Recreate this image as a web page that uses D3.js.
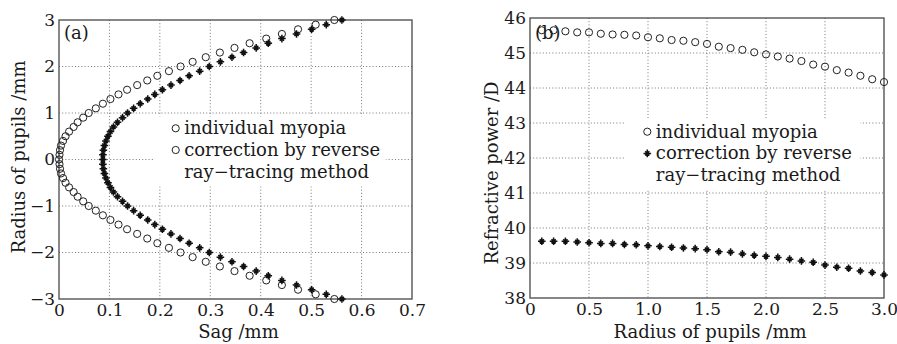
<!DOCTYPE html>
<html><head><meta charset="utf-8">
<script src="https://cdn.jsdelivr.net/npm/d3@7"></script>
<style>
body{margin:0;background:#fff;}
svg{display:block;font-family:"DejaVu Serif",serif;}
</style></head>
<body>
<svg id="chart" width="897" height="344"></svg>
<script>
// ---------- Panel (a) data ----------
const radiusA = [-3.0,-2.9,-2.8,-2.7,-2.6,-2.5,-2.4,-2.3,-2.2,-2.1,-2.0,-1.9,-1.8,-1.7,-1.6,-1.5,-1.4,-1.3,-1.2,-1.1,-1.0,-0.9,-0.8,-0.7,-0.6,-0.5,-0.4,-0.3,-0.2,-0.1,0.0,
  0.1,0.2,0.3,0.4,0.5,0.6,0.7,0.8,0.9,1.0,1.1,1.2,1.3,1.4,1.5,1.6,1.7,1.8,1.9,2.0,2.1,2.2,2.3,2.4,2.5,2.6,2.7,2.8,2.9,3.0];
const sagMyopia = [0.546,0.509,0.474,0.442,0.411,0.378,0.348,0.319,0.291,0.265,0.241,0.218,0.195,0.175,0.155,0.135,0.118,0.102,0.087,0.073,0.059,0.048,0.037,0.029,0.020,0.013,0.008,0.004,0.002,0.001,0.000,
  0.001,0.002,0.004,0.008,0.013,0.020,0.029,0.037,0.048,0.059,0.073,0.087,0.102,0.118,0.135,0.155,0.175,0.195,0.218,0.241,0.265,0.291,0.319,0.348,0.378,0.411,0.442,0.474,0.509,0.546];
const sagCorrection = [0.561,0.530,0.501,0.471,0.442,0.415,0.391,0.366,0.343,0.320,0.298,0.279,0.258,0.240,0.222,0.205,0.190,0.176,0.161,0.148,0.136,0.126,0.116,0.108,0.102,0.097,0.093,0.090,0.088,0.087,0.087,
  0.087,0.088,0.090,0.093,0.097,0.102,0.108,0.116,0.126,0.136,0.148,0.161,0.176,0.190,0.205,0.222,0.240,0.258,0.279,0.298,0.320,0.343,0.366,0.391,0.415,0.442,0.471,0.501,0.530,0.561];
const xTicksA = [0,0.1,0.2,0.3,0.4,0.5,0.6,0.7];
const yTicksA = [-3,-2,-1,0,1,2,3];

// ---------- Panel (b) data ----------
const radiusB = [0.1,0.2,0.3,0.4,0.5,0.6,0.7,0.8,0.9,1.0,1.1,1.2,1.3,1.4,1.5,1.6,1.7,1.8,1.9,2.0,2.1,2.2,2.3,2.4,2.5,2.6,2.7,2.8,2.9,3.0];
const powerMyopia = [45.65,45.65,45.62,45.59,45.59,45.55,45.53,45.52,45.50,45.45,45.42,45.37,45.35,45.31,45.26,45.18,45.14,45.09,45.02,44.96,44.90,44.84,44.77,44.67,44.61,44.51,44.44,44.35,44.25,44.17];
const powerCorrection = [39.62,39.62,39.62,39.60,39.58,39.56,39.56,39.53,39.52,39.49,39.47,39.45,39.43,39.41,39.38,39.32,39.31,39.26,39.22,39.19,39.16,39.11,39.06,39.02,38.94,38.88,38.85,38.77,38.73,38.66];
const xTicksB = [0,0.5,1.0,1.5,2.0,2.5,3.0];
const yTicksB = [38,39,40,41,42,43,44,45,46];

const legendLabels = ["individual myopia","correction by reverse","ray\u2212tracing method"];

const svg = d3.select("#chart");
const fmtX = d => d === 0 ? "0" : d3.format(".1f")(d);
const fmtY = d3.format("d");

function panel(cfg){
  const g = svg.append("g");
  const [x0,x1] = cfg.x.range(), [y0,y1] = cfg.y.range(); // y0 bottom, y1 top
  // grid
  const gg = g.append("g").attr("stroke","#777").attr("stroke-width",1).attr("stroke-dasharray","1,2.2");
  gg.selectAll("line.v").data(cfg.xTicks.slice(1,-1)).join("line")
    .attr("x1",d=>cfg.x(d)).attr("x2",d=>cfg.x(d)).attr("y1",y1).attr("y2",y0);
  gg.selectAll("line.h").data(cfg.yTicks.slice(1,-1)).join("line")
    .attr("y1",d=>cfg.y(d)).attr("y2",d=>cfg.y(d)).attr("x1",x0).attr("x2",x1);
  // legend background
  g.append("rect").attr("x",cfg.leg.x-22).attr("y",cfg.leg.y-12).attr("width",cfg.leg.w).attr("height",70).attr("fill","#fff");
  // frame
  g.append("rect").attr("x",x0).attr("y",y1).attr("width",x1-x0).attr("height",y0-y1)
    .attr("fill","none").attr("stroke","#555").attr("stroke-width",1.4);
  // axes (labels only)
  const ax = g.append("g").attr("transform",`translate(0,${y0})`)
    .call(d3.axisBottom(cfg.x).tickValues(cfg.xTicks).tickFormat(fmtX).tickSize(0));
  const ay = g.append("g").attr("transform",`translate(${x0},0)`)
    .call(d3.axisLeft(cfg.y).tickValues(cfg.yTicks).tickFormat(fmtY).tickSize(0).tickPadding(4));
  [ax,ay].forEach(a=>{a.select(".domain").remove(); a.selectAll("text").attr("font-family","DejaVu Serif").attr("font-size",17).attr("fill","#1a1a1a");});
  ax.selectAll("text").attr("y",17).attr("dy",0);
  // axis titles
  g.append("text").attr("x",(x0+x1)/2+3).attr("y",338).attr("text-anchor","middle")
    .attr("font-size",18).attr("fill","#1a1a1a").text(cfg.xLabel);
  g.append("text").attr("transform",`translate(${cfg.yLabX},${cfg.yLabY}) rotate(-90)`)
    .attr("text-anchor","middle").attr("dy","0.35em").attr("font-size",18).attr("fill","#1a1a1a").text(cfg.yLabel);
  // panel tag
  g.append("text").attr("x",x0+5).attr("y",39).attr("font-size",18).attr("fill","#1a1a1a").text(cfg.tag);
  return g;
}

function drawCircles(g, xs, ys, x, y){
  g.append("g").selectAll("circle").data(xs.map((v,i)=>[v,ys[i]])).join("circle")
    .attr("cx",d=>x(d[0])).attr("cy",d=>y(d[1])).attr("r",3.6)
    .attr("fill","none").attr("stroke","#222").attr("stroke-width",1);
}
// star marker: plus with a small cross (MATLAB-like '*')
const starPath = "M-3.8,0L3.8,0M0,-3.8L0,3.8M-2.1,-2.1L2.1,2.1M-2.1,2.1L2.1,-2.1";
function drawStars(g, xs, ys, x, y){
  g.append("g").selectAll("path").data(xs.map((v,i)=>[v,ys[i]])).join("path")
    .attr("transform",d=>`translate(${x(d[0])},${y(d[1])})`).attr("d",starPath)
    .attr("fill","none").attr("stroke","#111").attr("stroke-width",1.5);
}
function legend(g, lx, ly, secondMarker){
  const m = g.append("g");
  m.append("circle").attr("cx",lx).attr("cy",ly).attr("r",3.6).attr("fill","none").attr("stroke","#222");
  if(secondMarker==="circle"){
    m.append("circle").attr("cx",lx).attr("cy",ly+21.7).attr("r",3.6).attr("fill","none").attr("stroke","#222");
  } else {
    m.append("path").attr("transform",`translate(${lx},${ly+21.7})`).attr("d",starPath).attr("fill","none").attr("stroke","#111").attr("stroke-width",1.5);
  }
  m.selectAll("text").data(legendLabels).join("text")
    .attr("x",lx+8.5).attr("y",(d,i)=>ly+5.8+i*21.7).attr("font-size",18).attr("fill","#1a1a1a").text(d=>d);
}

// Panel (a)
const xA = d3.scaleLinear([0,0.7],[59,412]);
const yA = d3.scaleLinear([-3,3],[299,20]);
const gA = panel({x:xA,y:yA,xTicks:xTicksA,yTicks:yTicksA,xLabel:"Sag /mm",yLabel:"Radius of pupils /mm",
  yLabX:19,yLabY:157,tag:"(a)",leg:{x:175.7,y:128.3,w:232}});
drawCircles(gA, sagMyopia, radiusA, xA, yA);
drawStars(gA, sagCorrection, radiusA, xA, yA);
legend(gA, 175.7, 128.3, "circle");

// Panel (b)
const xB = d3.scaleLinear([0,3],[530,884]);
const yB = d3.scaleLinear([38,46],[298,18]);
const gB = panel({x:xB,y:yB,xTicks:xTicksB,yTicks:yTicksB,xLabel:"Radius of pupils /mm",yLabel:"Refractive power /D",
  yLabX:492,yLabY:173,tag:"(b)",leg:{x:647.3,y:131.7,w:235}});
drawCircles(gB, radiusB, powerMyopia, xB, yB);
drawStars(gB, radiusB, powerCorrection, xB, yB);
legend(gB, 647.3, 131.7, "star");
</script>
</body></html>
